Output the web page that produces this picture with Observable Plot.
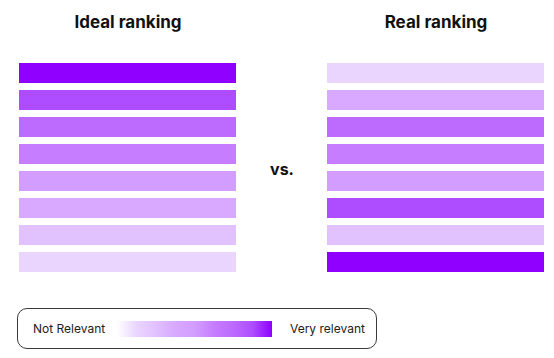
<!DOCTYPE html>
<html>
<head>
<meta charset="utf-8">
<script src="https://cdn.jsdelivr.net/npm/d3@7"></script>
<script src="https://cdn.jsdelivr.net/npm/@observablehq/plot@0.6"></script>
<style>
  html, body { margin: 0; padding: 0; background: #fff; }
  body { width: 554px; height: 358px; font-family: Inter, "Noto Sans", sans-serif; position: relative; overflow: hidden; }
  #legend { position: absolute; left: 17px; top: 308px; width: 360px; height: 41px; box-sizing: border-box;
    border: 1px solid #3a3a3a; border-radius: 10px; }
  #legend .lbl { position: absolute; top: 0; line-height: 39px; font-size: 12px; color: #222; }
  #legend .ramp { position: absolute; left: 99px; top: 12px; width: 155px; height: 16px; }
</style>
</head>
<body>
<div id="chart"></div>
<div id="legend"></div>
<script>
const sides = ["Ideal ranking", "Real ranking"];
const ranks = [1, 2, 3, 4, 5, 6, 7, 8];
const idealRelevance = [8, 7, 6, 5, 4, 3, 2, 1];
const realRelevance = [1, 3, 6, 5, 4, 7, 2, 8];
const levels = [1, 2, 3, 4, 5, 6, 7, 8];
const palette = ["#ead5ff", "#e2c1ff", "#d8a9ff", "#d39dff", "#c67dff", "#bd6aff", "#ae4dff", "#8f00ff"];
const versusLabel = "vs.";
const legendLabels = ["Not Relevant", "Very relevant"];

const rows = [];
ranks.forEach((r, i) => {
  rows.push({side: sides[0], rank: r, relevance: idealRelevance[i]});
  rows.push({side: sides[1], rank: r, relevance: realRelevance[i]});
});

const chart = Plot.plot({
  width: 554,
  height: 290,
  marginTop: 63,
  marginBottom: 18,
  marginLeft: 19,
  marginRight: 10,
  style: {fontFamily: "Inter, 'Noto Sans', sans-serif", background: "white", color: "#111"},
  fx: {domain: sides, axis: null, paddingInner: 0.2955, paddingOuter: 0},
  y: {domain: ranks, axis: null, paddingInner: 0.26, paddingOuter: 0},
  color: {type: "ordinal", domain: levels, range: palette},
  marks: [
    Plot.cell(rows, {fx: "side", y: "rank", fill: "relevance", inset: 0}),
    Plot.text(sides.map(s => ({side: s})), {
      fx: "side", text: "side", frameAnchor: "top", lineAnchor: "middle", dy: -41,
      fontSize: 17, fontWeight: 700, fill: "#111"
    }),
    Plot.text([{side: sides[0]}], {
      fx: "side", text: () => versusLabel, frameAnchor: "right", textAnchor: "middle",
      lineAnchor: "middle", dx: 45.5, dy: 2, fontSize: 16, fontWeight: 700, fill: "#111"
    })
  ]
});
document.getElementById("chart").appendChild(chart);

const legend = document.getElementById("legend");
const l1 = document.createElement("div");
l1.className = "lbl"; l1.style.left = "15px"; l1.textContent = legendLabels[0];
const ramp = document.createElement("div");
ramp.className = "ramp";
ramp.style.background = `linear-gradient(to right, #ffffff, ${palette.join(", ")})`;
const l2 = document.createElement("div");
l2.className = "lbl"; l2.style.left = "272px"; l2.textContent = legendLabels[1];
legend.append(l1, ramp, l2);
</script>
</body>
</html>
